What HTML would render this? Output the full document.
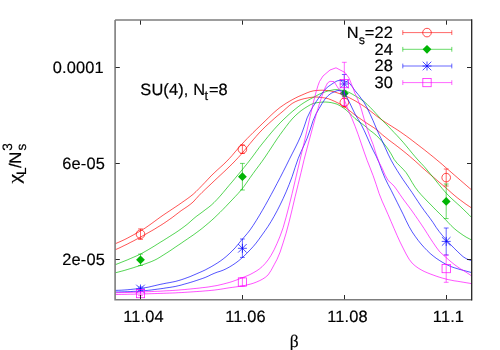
<!DOCTYPE html>
<html><head><meta charset="utf-8"><title>plot</title>
<style>
html,body{margin:0;padding:0;background:#fff;}
body{width:500px;height:350px;overflow:hidden;}
svg{display:block;}
text{filter:grayscale(1);}
text{font-family:"Liberation Sans",sans-serif;font-size:16.4px;fill:#000;text-rendering:geometricPrecision;letter-spacing:0.15px;stroke:#000;stroke-width:0.18px;}
.sub{font-size:13px;}
.ser{font-family:"Liberation Serif",serif;}
</style></head><body>
<svg width="500" height="350" viewBox="0 0 500 350">
<rect width="500" height="350" fill="#fff"/>
<defs><clipPath id="cp"><rect x="115.1" y="20.0" width="356.6" height="279.7"/></clipPath></defs>
<g fill="none" stroke="#ff0000" stroke-width="0.8" stroke-opacity="0.85" stroke-linejoin="round" clip-path="url(#cp)">
<path d="M115.1,243.8 L118.1,242.5 L121.1,241.2 L124.1,239.8 L127.1,238.3 L130.1,236.7 L133.1,235.1 L136.1,233.4 L139.1,231.7 L142.1,229.9 L145.1,228.1 L148.1,226.0 L151.1,223.9 L154.1,221.7 L157.1,219.5 L160.1,217.3 L163.1,215.2 L166.1,213.2 L169.1,211.2 L172.1,209.2 L175.1,207.2 L178.1,205.2 L181.1,203.1 L184.1,201.0 L187.1,198.9 L190.1,196.7 L193.1,194.3 L196.1,191.5 L199.1,188.5 L202.1,185.4 L205.1,182.3 L208.1,179.1 L211.1,175.9 L214.1,173.0 L217.1,170.2 L220.1,167.5 L223.1,164.8 L226.1,161.9 L229.1,158.8 L232.1,155.5 L235.1,151.9 L238.1,148.4 L241.1,145.0 L244.1,141.8 L247.1,138.6 L250.1,135.6 L253.1,132.6 L256.1,129.7 L259.1,126.8 L262.1,123.9 L265.1,121.0 L268.1,118.1 L271.1,115.2 L274.1,112.4 L277.1,109.8 L280.1,107.4 L283.1,105.3 L286.1,103.3 L289.1,101.5 L292.1,99.8 L295.1,98.2 L298.1,96.7 L301.1,95.4 L304.1,94.1 L307.1,92.8 L310.1,91.7 L313.1,90.9 L316.1,90.5 L319.1,90.3 L322.1,90.2 L325.1,90.4 L328.1,90.6 L331.1,91.1 L334.1,91.8 L337.1,92.8 L340.1,93.8 L343.1,94.9 L346.1,96.2 L349.1,97.6 L352.1,99.2 L355.1,100.8 L358.1,102.6 L361.1,104.4 L364.1,106.4 L367.1,108.5 L370.1,110.8 L373.1,113.2 L376.1,115.6 L379.1,117.9 L382.1,120.1 L385.1,122.1 L388.1,124.0 L391.1,125.9 L394.1,127.8 L397.1,129.7 L400.1,131.7 L403.1,133.8 L406.1,135.9 L409.1,138.1 L412.1,140.4 L415.1,142.7 L418.1,145.0 L421.1,147.3 L424.1,149.6 L427.1,152.0 L430.1,154.4 L433.1,156.8 L436.1,159.3 L439.1,161.8 L442.1,164.3 L445.1,167.0 L448.1,169.6 L451.1,172.2 L454.1,174.8 L457.1,177.4 L460.1,180.0 L463.1,182.6 L466.1,185.2 L469.1,187.8 L471.7,190.0"/>
<path d="M115.1,249.8 L118.1,248.5 L121.1,247.1 L124.1,245.6 L127.1,244.2 L130.1,242.6 L133.1,241.1 L136.1,239.5 L139.1,237.9 L142.1,236.2 L145.1,234.5 L148.1,232.8 L151.1,231.1 L154.1,229.4 L157.1,227.5 L160.1,225.7 L163.1,223.8 L166.1,221.8 L169.1,219.7 L172.1,217.6 L175.1,215.3 L178.1,213.0 L181.1,210.7 L184.1,208.7 L187.1,206.7 L190.1,204.5 L193.1,202.0 L196.1,198.7 L199.1,195.4 L202.1,192.4 L205.1,189.5 L208.1,186.7 L211.1,183.9 L214.1,181.0 L217.1,178.2 L220.1,175.4 L223.1,172.6 L226.1,169.8 L229.1,166.9 L232.1,164.0 L235.1,160.9 L238.1,157.7 L241.1,154.4 L244.1,150.8 L247.1,147.2 L250.1,143.5 L253.1,139.9 L256.1,136.4 L259.1,133.0 L262.1,129.9 L265.1,126.9 L268.1,124.1 L271.1,121.4 L274.1,118.7 L277.1,116.1 L280.1,113.6 L283.1,111.1 L286.1,108.4 L289.1,105.8 L292.1,103.5 L295.1,101.8 L298.1,100.5 L301.1,99.5 L304.1,98.7 L307.1,98.1 L310.1,97.5 L313.1,97.1 L316.1,97.0 L319.1,97.2 L322.1,97.6 L325.1,98.0 L328.1,98.7 L331.1,99.8 L334.1,101.1 L337.1,102.5 L340.1,104.1 L343.1,105.9 L346.1,108.0 L349.1,110.3 L352.1,112.7 L355.1,115.1 L358.1,117.2 L361.1,119.3 L364.1,121.4 L367.1,123.4 L370.1,125.3 L373.1,127.2 L376.1,129.3 L379.1,131.8 L382.1,134.6 L385.1,137.0 L388.1,139.4 L391.1,141.7 L394.1,143.9 L397.1,146.2 L400.1,148.5 L403.1,150.9 L406.1,153.3 L409.1,155.8 L412.1,158.4 L415.1,161.0 L418.1,163.7 L421.1,166.5 L424.1,169.2 L427.1,171.8 L430.1,174.4 L433.1,176.9 L436.1,179.5 L439.1,182.1 L442.1,184.6 L445.1,187.2 L448.1,189.8 L451.1,192.5 L454.1,195.1 L457.1,197.6 L460.1,199.9 L463.1,202.1 L466.1,204.3 L469.1,206.3 L471.7,208.0"/>
</g>
<g stroke="#ff0000" stroke-width="0.7" stroke-opacity="0.85" fill="none">
<path d="M140.5,228.9 V239.4 M138.1,228.9 H142.9 M138.1,239.4 H142.9"/>
<path d="M242.4,145 V153.4 M240.0,145 H244.8 M240.0,153.4 H244.8"/>
<path d="M344.3,98.2 V107 M341.90000000000003,98.2 H346.7 M341.90000000000003,107 H346.7"/>
<path d="M446.2,169 V186 M443.8,169 H448.59999999999997 M443.8,186 H448.59999999999997"/>
<path d="M402.8,32.6 H451.8 M402.8,30.200000000000003 V35.0 M451.8,30.200000000000003 V35.0"/>
</g>
<circle cx="140.5" cy="234.2" r="4.3" fill="none" stroke="#ff0000" stroke-width="0.7"/>
<circle cx="242.4" cy="149.2" r="4.3" fill="none" stroke="#ff0000" stroke-width="0.7"/>
<circle cx="344.3" cy="102.4" r="4.3" fill="none" stroke="#ff0000" stroke-width="0.7"/>
<circle cx="446.2" cy="177.6" r="4.3" fill="none" stroke="#ff0000" stroke-width="0.7"/>
<circle cx="427.0" cy="32.6" r="4.3" fill="none" stroke="#ff0000" stroke-width="0.7"/>
<g fill="none" stroke="#00c000" stroke-width="0.8" stroke-opacity="0.85" stroke-linejoin="round" clip-path="url(#cp)">
<path d="M115.1,264.8 L118.1,263.6 L121.1,262.4 L124.1,261.2 L127.1,260.0 L130.1,258.7 L133.1,257.4 L136.1,256.1 L139.1,254.7 L142.1,253.2 L145.1,251.5 L148.1,249.8 L151.1,248.0 L154.1,246.2 L157.1,244.3 L160.1,242.4 L163.1,240.6 L166.1,238.7 L169.1,236.8 L172.1,234.9 L175.1,233.0 L178.1,231.0 L181.1,228.9 L184.1,226.7 L187.1,224.4 L190.1,221.8 L193.1,219.1 L196.1,216.6 L199.1,214.4 L202.1,212.2 L205.1,209.9 L208.1,207.7 L211.1,205.3 L214.1,202.5 L217.1,199.4 L220.1,196.1 L223.1,192.6 L226.1,189.0 L229.1,185.4 L232.1,181.9 L235.1,178.3 L238.1,174.7 L241.1,171.1 L244.1,167.4 L247.1,163.7 L250.1,159.9 L253.1,155.9 L256.1,151.8 L259.1,147.7 L262.1,143.9 L265.1,140.2 L268.1,136.5 L271.1,132.9 L274.1,129.4 L277.1,126.1 L280.1,122.9 L283.1,119.9 L286.1,117.1 L289.1,114.3 L292.1,111.7 L295.1,109.2 L298.1,106.8 L301.1,104.6 L304.1,102.6 L307.1,100.8 L310.1,99.1 L313.1,97.5 L316.1,95.9 L319.1,94.3 L322.1,93.0 L325.1,91.9 L328.1,90.9 L331.1,90.3 L334.1,89.7 L337.1,89.6 L340.1,90.0 L343.1,90.5 L346.1,91.3 L349.1,92.4 L352.1,94.0 L355.1,95.8 L358.1,97.5 L361.1,99.4 L364.1,101.6 L367.1,104.3 L370.1,107.3 L373.1,110.4 L376.1,113.7 L379.1,117.0 L382.1,120.1 L385.1,123.2 L388.1,126.2 L391.1,129.3 L394.1,132.5 L397.1,135.6 L400.1,138.9 L403.1,142.2 L406.1,145.8 L409.1,149.4 L412.1,153.1 L415.1,156.7 L418.1,160.1 L421.1,163.3 L424.1,166.5 L427.1,170.0 L430.1,173.7 L433.1,177.3 L436.1,181.0 L439.1,184.7 L442.1,188.4 L445.1,191.9 L448.1,195.1 L451.1,198.1 L454.1,200.8 L457.1,203.5 L460.1,206.2 L463.1,209.1 L466.1,212.0 L469.1,214.9 L471.7,217.5"/>
<path d="M115.1,272.8 L118.1,272.1 L121.1,271.3 L124.1,270.5 L127.1,269.6 L130.1,268.7 L133.1,267.8 L136.1,266.8 L139.1,265.9 L142.1,264.9 L145.1,263.9 L148.1,262.8 L151.1,261.7 L154.1,260.4 L157.1,258.9 L160.1,257.1 L163.1,255.2 L166.1,253.3 L169.1,251.4 L172.1,249.4 L175.1,247.3 L178.1,245.3 L181.1,243.3 L184.1,241.2 L187.1,239.2 L190.1,237.1 L193.1,235.1 L196.1,232.9 L199.1,230.7 L202.1,228.4 L205.1,225.9 L208.1,223.4 L211.1,220.8 L214.1,218.1 L217.1,215.2 L220.1,212.3 L223.1,209.3 L226.1,206.2 L229.1,203.0 L232.1,199.9 L235.1,196.7 L238.1,193.5 L241.1,190.1 L244.1,186.3 L247.1,182.0 L250.1,177.7 L253.1,173.5 L256.1,169.4 L259.1,165.4 L262.1,161.3 L265.1,157.0 L268.1,152.5 L271.1,148.0 L274.1,143.4 L277.1,138.9 L280.1,134.6 L283.1,130.5 L286.1,126.5 L289.1,122.6 L292.1,119.0 L295.1,115.9 L298.1,113.2 L301.1,110.7 L304.1,108.6 L307.1,106.7 L310.1,104.9 L313.1,103.5 L316.1,102.8 L319.1,102.4 L322.1,102.1 L325.1,102.0 L328.1,102.2 L331.1,102.6 L334.1,103.3 L337.1,104.2 L340.1,105.8 L343.1,107.7 L346.1,110.0 L349.1,112.7 L352.1,115.6 L355.1,118.6 L358.1,121.0 L361.1,123.1 L364.1,125.3 L367.1,127.9 L370.1,130.5 L373.1,132.7 L376.1,135.2 L379.1,138.2 L382.1,141.5 L385.1,145.1 L388.1,149.1 L391.1,153.9 L394.1,159.4 L397.1,163.2 L400.1,166.2 L403.1,169.2 L406.1,172.6 L409.1,177.2 L412.1,182.4 L415.1,187.2 L418.1,191.2 L421.1,194.7 L424.1,197.9 L427.1,201.0 L430.1,204.0 L433.1,207.1 L436.1,210.2 L439.1,213.1 L442.1,216.1 L445.1,219.2 L448.1,222.4 L451.1,225.6 L454.1,228.4 L457.1,230.9 L460.1,233.1 L463.1,235.2 L466.1,237.1 L469.1,238.7 L471.7,240.0"/>
</g>
<g stroke="#00c000" stroke-width="0.7" stroke-opacity="0.85" fill="none">
<path d="M140.5,254.1 V265.5 M138.1,254.1 H142.9 M138.1,265.5 H142.9"/>
<path d="M242.4,163.4 V190 M240.0,163.4 H244.8 M240.0,190 H244.8"/>
<path d="M344.3,90.4 V96.4 M341.90000000000003,90.4 H346.7 M341.90000000000003,96.4 H346.7"/>
<path d="M446.2,184 V218.6 M443.8,184 H448.59999999999997 M443.8,218.6 H448.59999999999997"/>
<path d="M402.8,49.3 H451.8 M402.8,46.9 V51.699999999999996 M451.8,46.9 V51.699999999999996"/>
</g>
<path d="M136.1,259.8 L140.5,255.4 L144.9,259.8 L140.5,264.2 Z" fill="#00b404" stroke="none"/>
<path d="M238.0,176.7 L242.4,172.29999999999998 L246.8,176.7 L242.4,181.1 Z" fill="#00b404" stroke="none"/>
<path d="M339.90000000000003,93.4 L344.3,89.0 L348.7,93.4 L344.3,97.80000000000001 Z" fill="#00b404" stroke="none"/>
<path d="M441.8,201.4 L446.2,197.0 L450.59999999999997,201.4 L446.2,205.8 Z" fill="#00b404" stroke="none"/>
<path d="M422.6,49.3 L427.0,44.9 L431.4,49.3 L427.0,53.699999999999996 Z" fill="#00b404" stroke="none"/>
<g fill="none" stroke="#0000ff" stroke-width="0.8" stroke-opacity="0.85" stroke-linejoin="round" clip-path="url(#cp)">
<path d="M115.1,290.4 L118.1,290.3 L121.1,290.2 L124.1,290.0 L127.1,289.8 L130.1,289.5 L133.1,289.2 L136.1,288.9 L139.1,288.6 L142.1,288.2 L145.1,287.7 L148.1,287.2 L151.1,286.5 L154.1,285.8 L157.1,285.1 L160.1,284.4 L163.1,283.8 L166.1,283.2 L169.1,282.7 L172.1,282.1 L175.1,281.5 L178.1,280.7 L181.1,279.8 L184.1,278.8 L187.1,277.7 L190.1,276.6 L193.1,275.3 L196.1,274.0 L199.1,272.7 L202.1,271.4 L205.1,270.0 L208.1,268.4 L211.1,266.8 L214.1,265.0 L217.1,263.2 L220.1,261.2 L223.1,259.0 L226.1,256.6 L229.1,253.9 L232.1,251.0 L235.1,247.9 L238.1,244.3 L241.1,240.6 L244.1,237.2 L247.1,233.7 L250.1,229.9 L253.1,225.5 L256.1,220.8 L259.1,215.9 L262.1,210.8 L265.1,205.6 L268.1,200.2 L271.1,194.7 L274.1,189.1 L277.1,183.4 L280.1,177.7 L283.1,171.8 L286.1,165.9 L289.1,159.8 L292.1,153.9 L295.1,148.0 L298.1,141.9 L301.1,135.2 L304.1,126.9 L307.1,117.9 L310.1,111.7 L313.1,106.5 L316.1,101.8 L319.1,97.4 L322.1,93.2 L325.1,89.4 L328.1,86.7 L331.1,84.6 L334.1,82.6 L337.1,80.9 L340.1,80.3 L343.1,80.7 L346.1,81.5 L349.1,82.8 L352.1,86.5 L355.1,90.8 L358.1,94.4 L361.1,98.3 L364.1,102.5 L367.1,107.9 L370.1,114.2 L373.1,120.7 L376.1,127.8 L379.1,134.5 L382.1,140.7 L385.1,147.4 L388.1,154.1 L391.1,160.2 L394.1,165.5 L397.1,170.4 L400.1,175.1 L403.1,179.7 L406.1,184.0 L409.1,188.3 L412.1,192.6 L415.1,197.2 L418.1,201.7 L421.1,206.2 L424.1,210.4 L427.1,214.4 L430.1,218.4 L433.1,222.6 L436.1,227.3 L439.1,231.4 L442.1,235.1 L445.1,238.5 L448.1,241.9 L451.1,245.1 L454.1,248.2 L457.1,251.1 L460.1,254.0 L463.1,256.7 L466.1,258.6 L469.1,259.9 L471.7,260.6"/>
<path d="M115.1,292.0 L118.1,292.0 L121.1,291.9 L124.1,291.8 L127.1,291.7 L130.1,291.6 L133.1,291.4 L136.1,291.3 L139.1,291.1 L142.1,290.9 L145.1,290.6 L148.1,290.3 L151.1,290.0 L154.1,289.6 L157.1,289.2 L160.1,288.8 L163.1,288.4 L166.1,287.9 L169.1,287.5 L172.1,287.0 L175.1,286.5 L178.1,285.8 L181.1,285.1 L184.1,284.2 L187.1,283.4 L190.1,282.5 L193.1,281.6 L196.1,280.6 L199.1,279.6 L202.1,278.6 L205.1,277.5 L208.1,276.2 L211.1,274.7 L214.1,273.4 L217.1,272.2 L220.1,271.3 L223.1,270.2 L226.1,268.8 L229.1,267.2 L232.1,265.4 L235.1,263.4 L238.1,261.2 L241.1,258.7 L244.1,256.0 L247.1,253.0 L250.1,249.9 L253.1,246.7 L256.1,243.1 L259.1,239.1 L262.1,234.9 L265.1,230.7 L268.1,226.3 L271.1,221.5 L274.1,216.3 L277.1,210.8 L280.1,204.9 L283.1,198.6 L286.1,191.9 L289.1,184.6 L292.1,176.7 L295.1,167.5 L298.1,158.7 L301.1,151.6 L304.1,145.1 L307.1,138.3 L310.1,129.9 L313.1,120.6 L316.1,113.7 L319.1,108.5 L322.1,103.4 L325.1,98.9 L328.1,95.6 L331.1,93.3 L334.1,91.9 L337.1,90.7 L340.1,90.4 L343.1,91.8 L346.1,95.7 L349.1,101.6 L352.1,108.0 L355.1,114.1 L358.1,119.2 L361.1,124.3 L364.1,130.3 L367.1,137.0 L370.1,143.9 L373.1,150.2 L376.1,156.0 L379.1,162.7 L382.1,171.1 L385.1,178.4 L388.1,184.5 L391.1,190.2 L394.1,196.2 L397.1,202.2 L400.1,208.2 L403.1,214.2 L406.1,220.6 L409.1,226.6 L412.1,231.8 L415.1,236.2 L418.1,240.3 L421.1,244.0 L424.1,247.4 L427.1,250.5 L430.1,253.4 L433.1,255.9 L436.1,258.2 L439.1,260.2 L442.1,262.1 L445.1,263.8 L448.1,265.3 L451.1,266.6 L454.1,267.7 L457.1,268.6 L460.1,269.5 L463.1,270.3 L466.1,271.1 L469.1,271.9 L471.7,272.6"/>
</g>
<g stroke="#0000ff" stroke-width="0.7" stroke-opacity="0.85" fill="none">
<path d="M140.5,287 V291 M138.1,287 H142.9 M138.1,291 H142.9"/>
<path d="M242.4,239 V257.4 M240.0,239 H244.8 M240.0,257.4 H244.8"/>
<path d="M344.3,74.5 V94 M341.90000000000003,74.5 H346.7 M341.90000000000003,94 H346.7"/>
<path d="M446.2,228 V255 M443.8,228 H448.59999999999997 M443.8,255 H448.59999999999997"/>
<path d="M402.8,66.0 H451.8 M402.8,63.6 V68.4 M451.8,63.6 V68.4"/>
</g>
<path d="M140.5,284.5 V293.5 M136.0,289 H145.0 M136.2,284.7 L144.8,293.3 M136.2,293.3 L144.8,284.7" fill="none" stroke="#0000ff" stroke-width="0.7"/>
<path d="M242.4,243.8 V252.8 M237.9,248.3 H246.9 M238.1,244.0 L246.70000000000002,252.60000000000002 M238.1,252.60000000000002 L246.70000000000002,244.0" fill="none" stroke="#0000ff" stroke-width="0.7"/>
<path d="M344.3,79.5 V88.5 M339.8,84.0 H348.8 M340.0,79.7 L348.6,88.3 M340.0,88.3 L348.6,79.7" fill="none" stroke="#0000ff" stroke-width="0.7"/>
<path d="M446.2,236.9 V245.9 M441.7,241.4 H450.7 M441.9,237.1 L450.5,245.70000000000002 M441.9,245.70000000000002 L450.5,237.1" fill="none" stroke="#0000ff" stroke-width="0.7"/>
<path d="M427.0,61.5 V70.5 M422.5,66.0 H431.5 M422.7,61.7 L431.3,70.3 M422.7,70.3 L431.3,61.7" fill="none" stroke="#0000ff" stroke-width="0.7"/>
<g fill="none" stroke="#ff00ff" stroke-width="0.8" stroke-opacity="0.85" stroke-linejoin="round" clip-path="url(#cp)">
<path d="M115.1,292.8 L118.1,292.7 L121.1,292.6 L124.1,292.6 L127.1,292.5 L130.1,292.4 L133.1,292.3 L136.1,292.2 L139.1,292.1 L142.1,291.9 L145.1,291.8 L148.1,291.7 L151.1,291.6 L154.1,291.4 L157.1,291.3 L160.1,291.2 L163.1,291.0 L166.1,290.8 L169.1,290.7 L172.1,290.5 L175.1,290.3 L178.1,290.1 L181.1,289.8 L184.1,289.6 L187.1,289.3 L190.1,289.0 L193.1,288.7 L196.1,288.4 L199.1,288.1 L202.1,287.7 L205.1,287.4 L208.1,287.0 L211.1,286.5 L214.1,286.0 L217.1,285.5 L220.1,284.8 L223.1,284.1 L226.1,283.3 L229.1,282.5 L232.1,281.6 L235.1,280.5 L238.1,279.4 L241.1,278.2 L244.1,277.0 L247.1,275.8 L250.1,274.5 L253.1,272.9 L256.1,271.2 L259.1,269.2 L262.1,266.7 L265.1,263.6 L268.1,259.9 L271.1,255.3 L274.1,249.8 L277.1,243.3 L280.1,236.1 L283.1,227.8 L286.1,217.2 L289.1,205.8 L292.1,193.6 L295.1,180.8 L298.1,168.1 L301.1,155.3 L304.1,142.7 L307.1,129.9 L310.1,116.6 L313.1,103.6 L316.1,91.9 L318.0,85.5 L319.5,81.5 L323.0,76.0 L330.0,70.0 L336.0,67.8 L345.0,72.5 L349.0,78.0 L353.0,88.0 L355.0,93.5 L356.0,95.5 L358.1,100.2 L361.1,108.4 L364.1,118.9 L367.1,128.8 L370.1,136.9 L373.1,144.5 L376.1,154.1 L379.1,162.5 L382.1,168.2 L385.1,175.1 L388.1,180.4 L391.1,183.2 L394.1,186.1 L397.1,190.2 L400.1,194.7 L403.1,199.0 L406.1,203.0 L409.1,207.0 L412.1,211.1 L415.1,215.4 L418.1,219.7 L421.1,224.1 L424.1,228.6 L427.1,233.3 L430.1,238.1 L433.1,242.6 L436.1,247.0 L439.1,251.0 L442.1,254.0 L445.1,256.6 L448.1,259.3 L451.1,261.9 L454.1,264.3 L457.1,266.5 L460.1,268.6 L463.1,270.4 L466.1,272.2 L469.1,274.2 L471.7,276.0"/>
<path d="M115.1,294.5 L118.1,294.5 L121.1,294.4 L124.1,294.4 L127.1,294.3 L130.1,294.2 L133.1,294.2 L136.1,294.1 L139.1,294.0 L142.1,294.0 L145.1,293.9 L148.1,293.8 L151.1,293.7 L154.1,293.6 L157.1,293.5 L160.1,293.4 L163.1,293.3 L166.1,293.2 L169.1,293.1 L172.1,293.0 L175.1,292.9 L178.1,292.7 L181.1,292.6 L184.1,292.4 L187.1,292.2 L190.1,292.0 L193.1,291.8 L196.1,291.6 L199.1,291.4 L202.1,291.2 L205.1,290.9 L208.1,290.7 L211.1,290.4 L214.1,290.1 L217.1,289.7 L220.1,289.3 L223.1,288.8 L226.1,288.3 L229.1,287.8 L232.1,287.4 L235.1,287.0 L238.1,286.6 L241.1,286.2 L244.1,285.6 L247.1,284.9 L250.1,284.2 L253.1,283.3 L256.1,282.2 L259.1,280.9 L262.1,279.4 L265.1,277.5 L268.1,274.9 L271.1,270.4 L274.1,264.8 L277.1,259.2 L280.1,252.1 L283.1,242.9 L286.1,233.2 L289.1,221.9 L292.1,209.6 L295.1,196.8 L298.1,184.6 L301.1,172.3 L304.1,159.6 L307.1,148.1 L310.1,137.0 L313.1,125.9 L316.1,114.9 L319.1,104.8 L322.1,95.7 L325.0,88.0 L327.5,83.0 L330.0,81.3 L334.0,81.6 L339.6,90.4 L343.1,96.8 L346.1,104.3 L349.1,112.0 L352.1,118.9 L355.1,126.3 L358.1,134.4 L361.1,143.1 L364.1,151.9 L367.1,160.3 L370.1,167.9 L373.1,175.6 L376.1,184.3 L379.1,193.5 L382.1,201.1 L385.1,207.8 L388.1,214.6 L391.1,221.6 L394.1,228.6 L397.1,235.5 L400.1,242.1 L403.1,248.1 L406.1,254.0 L409.1,259.2 L412.1,263.1 L415.1,265.8 L418.1,268.0 L421.1,269.8 L424.1,271.4 L427.1,272.7 L430.1,273.9 L433.1,275.0 L436.1,276.1 L439.1,277.1 L442.1,278.0 L445.1,278.8 L448.1,279.6 L451.1,280.2 L454.1,280.8 L457.1,281.2 L460.1,281.7 L463.1,282.2 L466.1,282.7 L469.1,283.2 L471.7,283.7"/>
</g>
<g stroke="#ff00ff" stroke-width="0.7" stroke-opacity="0.85" fill="none">
<path d="M140.5,291.6 V295.6 M138.1,291.6 H142.9 M138.1,295.6 H142.9"/>
<path d="M242.4,277.8 V286.2 M240.0,277.8 H244.8 M240.0,286.2 H244.8"/>
<path d="M344.3,62.3 V105.5 M341.90000000000003,62.3 H346.7 M341.90000000000003,105.5 H346.7"/>
<path d="M446.2,255 V282.3 M443.8,255 H448.59999999999997 M443.8,282.3 H448.59999999999997"/>
<path d="M402.8,82.6 H451.8 M402.8,80.19999999999999 V85.0 M451.8,80.19999999999999 V85.0"/>
</g>
<rect x="136.35" y="289.45000000000005" width="8.3" height="8.3" fill="none" stroke="#ff00ff" stroke-width="0.7"/>
<rect x="238.25" y="277.85" width="8.3" height="8.3" fill="none" stroke="#ff00ff" stroke-width="0.7"/>
<rect x="340.15000000000003" y="79.44999999999999" width="8.3" height="8.3" fill="none" stroke="#ff00ff" stroke-width="0.7"/>
<rect x="442.05" y="264.45000000000005" width="8.3" height="8.3" fill="none" stroke="#ff00ff" stroke-width="0.7"/>
<rect x="422.85" y="78.44999999999999" width="8.3" height="8.3" fill="none" stroke="#ff00ff" stroke-width="0.7"/>
<text x="393.0" y="38.2" text-anchor="end">N<tspan class="sub" dy="5.4" style="font-size:12.4px;letter-spacing:-0.2px">s</tspan><tspan dy="-5.4">=22</tspan></text>
<text x="393.0" y="54.7" text-anchor="end">24</text>
<text x="393.0" y="71.3" text-anchor="end">28</text>
<text x="393.0" y="87.8" text-anchor="end">30</text>
<g fill="none">
<path d="M115.1,20.0 V299.7 H471.7" stroke="#7d7d7d" stroke-width="1.6"/>
<path d="M115.1,20.0 H471.7" stroke="#7d7d7d" stroke-width="1.6"/>
<path d="M471.7,19.2 V300.5" stroke="#222" stroke-width="1.3"/>
<path d="M140.5,299.2 v-4.2 M140.5,20.5 v4.2 M242.5,299.2 v-4.2 M242.5,20.5 v4.2 M344.5,299.2 v-4.2 M344.5,20.5 v4.2 M446.5,299.2 v-4.2 M446.5,20.5 v4.2 M115.6,67.5 h4.2 M471.2,67.5 h-4.2 M115.6,163.5 h4.2 M471.2,163.5 h-4.2 M115.6,259.5 h4.2 M471.2,259.5 h-4.2" stroke="#111" stroke-width="0.9"/>
</g>
<text x="143.5" y="322" text-anchor="middle">11.04</text>
<text x="245.5" y="322" text-anchor="middle">11.06</text>
<text x="347.5" y="322" text-anchor="middle">11.08</text>
<text x="448.5" y="322" text-anchor="middle">11.1</text>
<text x="103.9" y="73.0" text-anchor="end">0.0001</text>
<text x="105.0" y="169.0" text-anchor="end">6e-05</text>
<text x="105.0" y="265.0" text-anchor="end">2e-05</text>
<text x="140.3" y="94.8">SU(4), N<tspan class="sub" x="204.6" dy="5.3">t</tspan><tspan x="208.9" dy="-5.3">=8</tspan></text>
<text class="ser" x="294.2" y="346.5" text-anchor="middle" style="font-size:17.5px;letter-spacing:0">β</text>
<g transform="translate(20.6,184) rotate(-90)" style="letter-spacing:0"><text class="ser" transform="translate(0.4,-0.3) scale(1.25,1)" style="font-size:17.4px">χ</text><text x="9.1" y="5" style="font-size:13.6px">L</text><text x="16.0" y="0" style="font-size:16.8px">/</text><text x="20.3" y="0" style="font-size:16.8px">N</text><text x="33.5" y="5.2" style="font-size:13.6px">s</text><text x="33.3" y="-8.2" style="font-size:13.6px">3</text></g>
</svg></body></html>
